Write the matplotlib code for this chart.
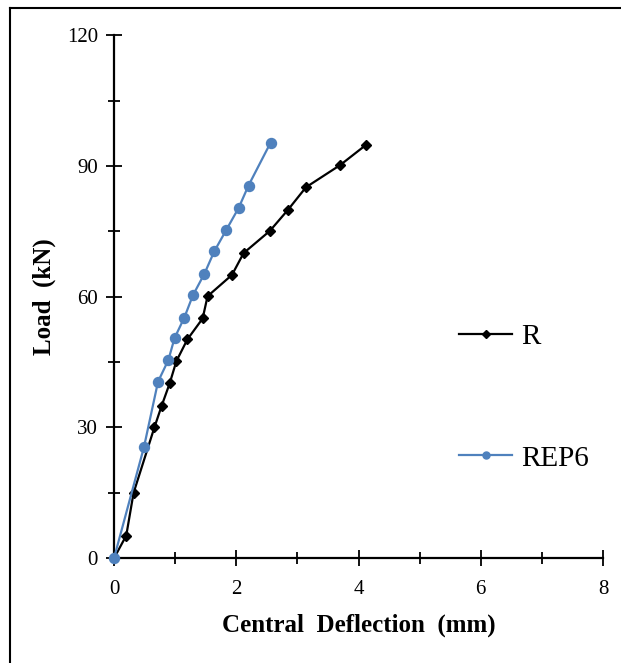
import matplotlib.pyplot as plt
from matplotlib.lines import Line2D

# deflection (mm) / load (kN)
r_defl = [0, 0.20, 0.32, 0.66, 0.78, 0.91, 1.02, 1.20, 1.45, 1.53, 1.93, 2.12, 2.55, 2.85, 3.14, 3.70, 4.12]
r_load = [0, 5.2, 15, 30, 35, 40.1, 45.2, 50.2, 55, 60.1, 65, 70, 75.1, 80, 85.1, 90.2, 94.8]

rep6_defl = [0, 0.49, 0.72, 0.89, 0.99, 1.15, 1.29, 1.48, 1.64, 1.84, 2.04, 2.20, 2.56]
rep6_load = [0, 25.5, 40.5, 45.5, 50.5, 55.2, 60.3, 65.3, 70.4, 75.4, 80.4, 85.5, 95.3]

plt.rcParams['font.family'] = ['Liberation Serif', 'DejaVu Serif']

fig = plt.figure(figsize=(6.21, 6.63), dpi=100)
ax = fig.add_axes([0.1836, 0.158, 0.7875, 0.789])

ax.plot(r_defl, r_load, color='black', lw=1.6, marker='D', ms=5.5, label='R',
        zorder=3, clip_on=False)
ax.plot(rep6_defl, rep6_load, color='#4F81BD', lw=1.6, marker='o', ms=7.2, label='REP6',
        zorder=4, clip_on=False)

ax.set_xlim(0, 8)
ax.set_ylim(0, 120)
ax.set_xticks([0, 2, 4, 6, 8])
ax.set_xticks([1, 3, 5, 7], minor=True)
ax.set_yticks([0, 30, 60, 90, 120])
ax.set_yticks([15, 45, 75, 105], minor=True)
ax.tick_params(which='both', direction='inout', width=1.3, labelsize=15, pad=6)
ax.tick_params(which='major', length=11)
ax.tick_params(which='minor', length=9)
ax.tick_params(axis='x', pad=10)
ax.spines['top'].set_visible(False)
ax.spines['right'].set_visible(False)
for s in ['left', 'bottom']:
    ax.spines[s].set_linewidth(1.6)

ax.set_xlabel('Central  Deflection  (mm)', fontsize=18, fontweight='bold', labelpad=11)
ax.set_ylabel('Load  (kN)', fontsize=18, fontweight='bold', labelpad=8)

ax.legend(loc='upper left', bbox_to_anchor=(0.652, 0.499), frameon=False, fontsize=21,
          labelspacing=3.27, handlelength=1.82, handletextpad=0.3, markerscale=0.7)

# outer chart frame (cropped at right and bottom)
fig.add_artist(Line2D([0.016, 1.0], [0.988, 0.988], color='black', lw=1.5, transform=fig.transFigure))
fig.add_artist(Line2D([0.016, 0.016], [0.0, 0.988], color='black', lw=1.5, transform=fig.transFigure))

fig.savefig('out.png', dpi=100)
